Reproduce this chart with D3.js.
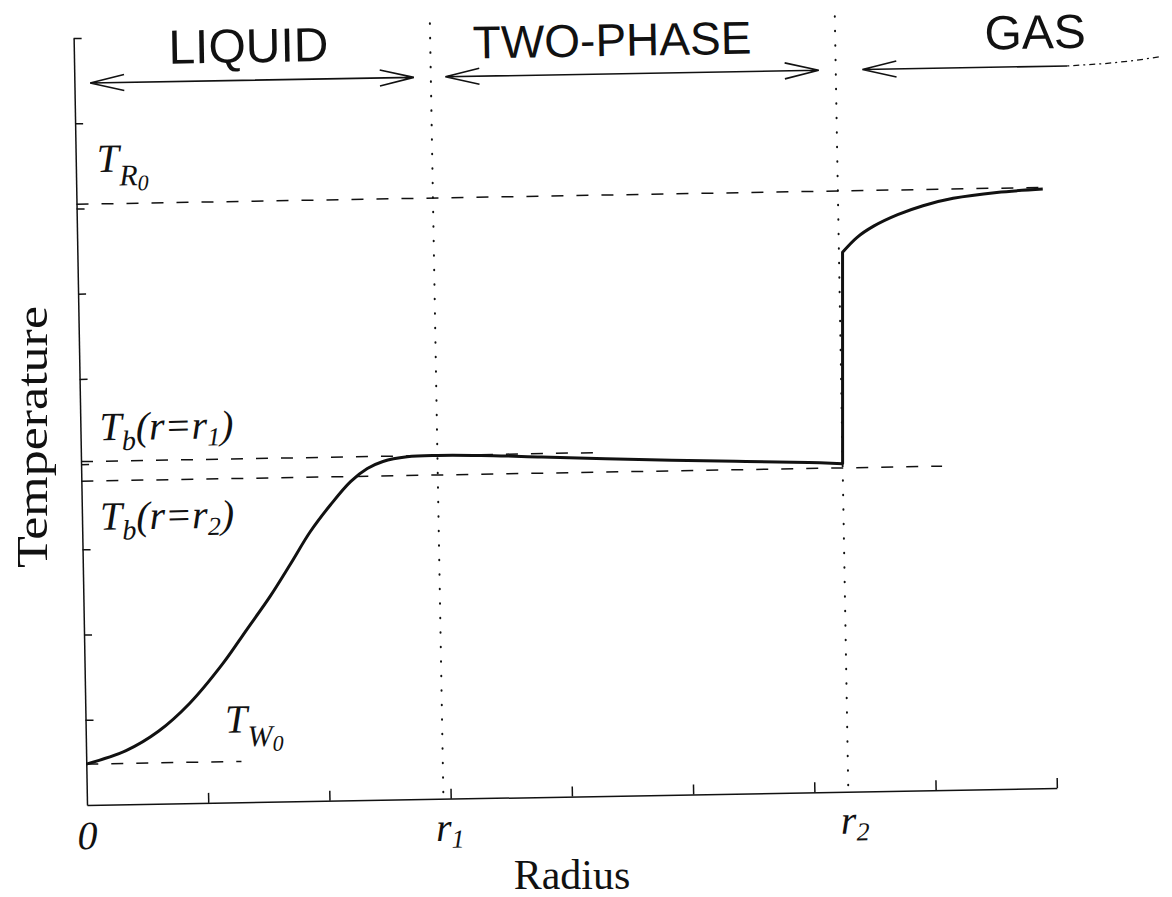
<!DOCTYPE html>
<html>
<head>
<meta charset="utf-8">
<script src="https://cdn.jsdelivr.net/npm/d3@7"></script>
<style>
body { margin: 0; background: #fff; }
svg { display: block; }
.serif { font-family: "Liberation Serif", "DejaVu Serif", serif; fill: #111; }
.sans { font-family: "Liberation Sans", Arial, sans-serif; fill: #111; }
.axis path, .axis line { stroke: #111; stroke-width: 1.5; }
</style>
</head>
<body>
<div id="main"></div>
<script>
// radius (one tick = 1 unit) and temperature (one tick = 1 unit)
// liquid and two-phase part of the profile
var curveR = [0, 0.33, 0.60, 0.86, 1.14, 1.34, 1.54, 1.71, 1.88, 2.05, 2.22, 2.36, 2.49, 2.69, 2.94,
              3.3, 3.8, 4.6, 5.4, 6.0, 6.28];
var curveT = [0.48, 0.63, 0.85, 1.17, 1.63, 2.02, 2.41, 2.78, 3.16, 3.47, 3.74, 3.89, 3.97, 4.02, 4.03,
              4.02, 3.99, 3.94, 3.90, 3.87, 3.85];
// gas part, after the jump at r2
var gasR = [6.31, 6.43, 6.57, 6.77, 6.98, 7.23, 7.59, 7.97];
var gasT = [6.33, 6.50, 6.63, 6.76, 6.86, 6.94, 7.00, 7.03];

// dashed reference temperatures: T_R0, Tb(r=r1), Tb(r=r2), T_W0
var levelT   = [7.05, 4.03, 3.80, 0.48];
var levelEnd = [8.03, 4.30, 7.10, 1.28];

// phase boundaries r1, r2
var boundaryR = [2.94, 6.28];
var boundaryNames = ["1", "2"];

// phase arrows across the top
var phaseNames = ["LIQUID", "TWO-PHASE", "GAS"];
var phaseMid   = [1.44, 4.44, 7.93];
var phaseFrom  = [0.13, 3.06, 6.50];
var phaseTo    = [2.80, 6.14, 8.19];
var phaseHeads = ["both", "both", "left"];
var gasTailR = [8.19, 8.50, 8.75, 8.96];
var gasTailT = [8.47, 8.49, 8.52, 8.56];

var margin = {top: 38, left: 87},
    width = 970,
    height = 767;

var x = d3.scaleLinear().domain([0, 8]).range([0, width]);
var y = d3.scaleLinear().domain([0, 9]).range([height, 0]);

var svg = d3.select("#main").append("svg")
    .attr("width", 1172)
    .attr("height", 897);

// the scanned figure sits about one degree off level
var g = svg.append("g")
    .attr("transform", "translate(" + margin.left + "," + margin.top + ") rotate(-1 0 " + height + ")");

g.append("g")
    .attr("class", "axis")
    .attr("transform", "translate(0," + height + ")")
    .call(d3.axisBottom(x).tickValues(d3.range(1, 9)).tickSizeInner(-10).tickSizeOuter(0).tickFormat(""));

g.append("g")
    .attr("class", "axis")
    .call(d3.axisLeft(y).tickValues(d3.range(1, 10)).tickSizeInner(-8).tickSizeOuter(0).tickFormat(""));

// dotted phase boundaries
g.selectAll(".boundary").data(boundaryR)
  .enter().append("line")
    .attr("class", "boundary")
    .attr("x1", function(d) { return x(d); })
    .attr("x2", function(d) { return x(d); })
    .attr("y1", y(9.1))
    .attr("y2", y(0))
    .style("stroke", "#111")
    .style("stroke-width", 2)
    .style("stroke-linecap", "round")
    .style("stroke-dasharray", "0.5,14");

// dashed reference levels
g.selectAll(".level").data(levelT)
  .enter().append("line")
    .attr("class", "level")
    .attr("x1", x(0))
    .attr("x2", function(d, i) { return x(levelEnd[i]); })
    .attr("y1", function(d) { return y(d); })
    .attr("y2", function(d) { return y(d); })
    .style("stroke", "#111")
    .style("stroke-width", 1.5)
    .style("stroke-dasharray", "12,13");

// temperature profile: smooth liquid/two-phase part, straight jump, smooth gas part
var liquidLine = d3.line()
    .x(function(d, i) { return x(curveR[i]); })
    .y(function(d) { return y(d); })
    .curve(d3.curveCatmullRom.alpha(0.5));
var gasLine = d3.line()
    .x(function(d, i) { return x(gasR[i]); })
    .y(function(d) { return y(d); })
    .curve(d3.curveCatmullRom.alpha(0.5));

g.append("path")
    .attr("d", liquidLine(curveT) + gasLine(gasT).replace(/^M/, "L"))
    .style("fill", "none")
    .style("stroke", "#111")
    .style("stroke-width", 3)
    .style("stroke-linejoin", "round");

// phase arrows
var headLen = 34, headW = 8;
phaseNames.forEach(function(name, i) {
  var ay = y(8.47), x1 = x(phaseFrom[i]), x2 = x(phaseTo[i]);
  var p = "M" + x1 + "," + ay + "L" + x2 + "," + ay;
  p += "M" + (x1 + headLen) + "," + (ay - headW) + "L" + x1 + "," + ay + "L" + (x1 + headLen) + "," + (ay + headW);
  if (phaseHeads[i] == "both")
    p += "M" + (x2 - headLen) + "," + (ay - headW) + "L" + x2 + "," + ay + "L" + (x2 - headLen) + "," + (ay + headW);
  g.append("path")
      .attr("d", p)
      .style("fill", "none")
      .style("stroke", "#111")
      .style("stroke-width", 1.6);
  g.append("text")
      .attr("class", "sans")
      .attr("x", x(phaseMid[i]))
      .attr("y", y(8.68))
      .attr("text-anchor", "middle")
      .style("font-size", name == "TWO-PHASE" ? "46px" : "48px")
      .text(name);
});

g.append("path")
    .datum(gasTailT)
    .attr("d", d3.line().x(function(d, i) { return x(gasTailR[i]); }).y(function(d) { return y(d); }))
    .style("fill", "none")
    .style("stroke", "#111")
    .style("stroke-width", 1.3)
    .style("stroke-dasharray", "2,4,6,4");

// math style labels: [text, font size, baseline shift]
function mathLabel(px, py, parts) {
  var t = g.append("text")
      .attr("class", "serif")
      .attr("x", px)
      .attr("y", py)
      .style("font-style", "italic");
  parts.forEach(function(p) {
    t.append("tspan")
        .attr("dy", p[2])
        .style("font-size", p[1] + "px")
        .text(p[0]);
  });
  return t;
}

mathLabel(x(0) + 21, y(levelT[0]) - 32, [["T", 40, 0], ["R", 30, 14], ["0", 22, 5]]);
mathLabel(x(0) + 19, y(levelT[1]) - 21, [["T", 40, 0], ["b", 28, 10], ["(r=r", 40, -10], ["1", 26, 7], [")", 40, -7]]);
mathLabel(x(0) + 18, y(levelT[2]) + 49, [["T", 40, 0], ["b", 28, 10], ["(r=r", 40, -10], ["2", 26, 7], [")", 40, -7]]);
mathLabel(x(1.15), y(levelT[3]) - 29, [["T", 40, 0], ["W", 30, 14], ["0", 22, 5]]);

// radius tick labels
mathLabel(x(0) - 10, height + 44, [["0", 40, 0]]);
boundaryR.forEach(function(r, i) {
  mathLabel(x(r) - 8, height + 42, [["r", 40, 0], [boundaryNames[i], 26, 7]]);
});

// axis titles
svg.append("text")
    .attr("class", "serif")
    .attr("x", 572)
    .attr("y", 889)
    .attr("text-anchor", "middle")
    .style("font-size", "42px")
    .text("Radius");

svg.append("text")
    .attr("class", "serif")
    .attr("transform", "translate(47,437) rotate(-90)")
    .attr("text-anchor", "middle")
    .attr("textLength", 262)
    .attr("lengthAdjust", "spacingAndGlyphs")
    .style("font-size", "45px")
    .text("Temperature");
</script>
</body>
</html>
